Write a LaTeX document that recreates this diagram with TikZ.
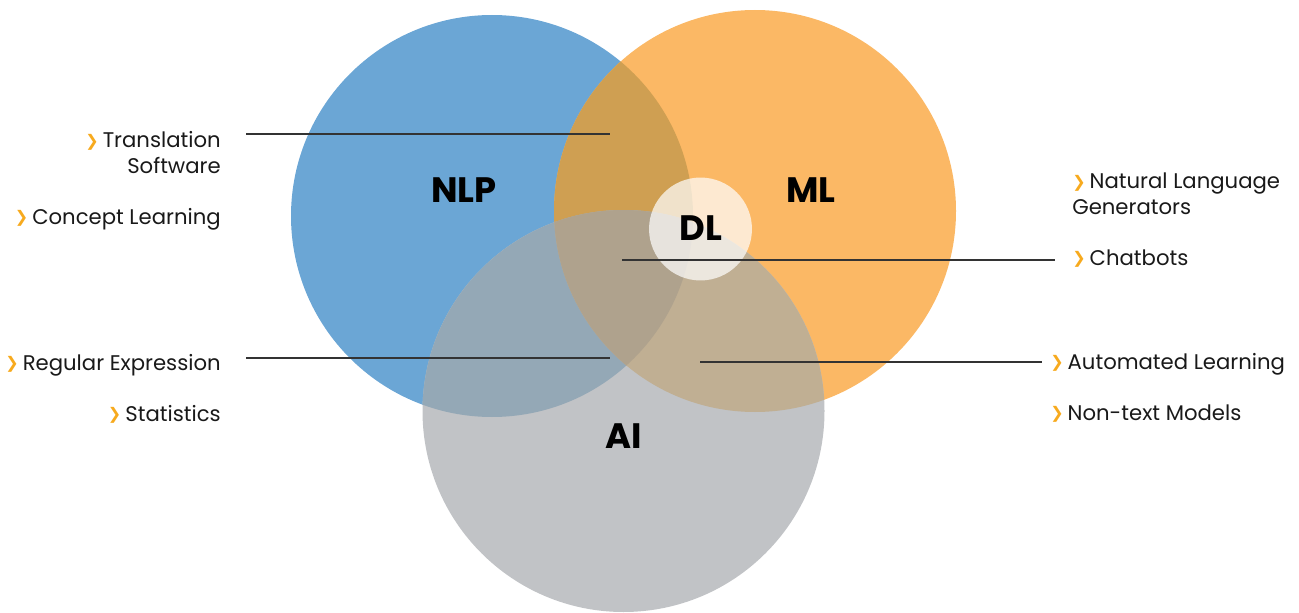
\documentclass[tikz,border=0pt]{standalone}
\usepackage{fontspec}
\setmainfont{Poppins}
\newfontfamily\djv{DejaVu Sans}
\begin{document}
\begin{tikzpicture}[x=0.75pt,y=-0.75pt,
  lbl/.style={inner sep=0pt,font=\fontsize{15.9pt}{19.5pt}\selectfont,text=black!90},
  big/.style={inner sep=0pt,font=\fontsize{26.5pt}{30pt}\selectfont\bfseries,text=black},
  lead/.style={draw=black!80,line width=0.95pt}]
\definecolor{cblue}{HTML}{6BA6D5}
\definecolor{corange}{HTML}{FBB865}
\definecolor{cgray}{HTML}{C1C3C6}
\definecolor{cbo}{HTML}{CF9F52}
\definecolor{cbg}{HTML}{94A8B6}
\definecolor{cog}{HTML}{C0AF93}
\definecolor{cbog}{HTML}{AFA28D}
\definecolor{chev}{HTML}{F7AA1E}
\newcommand{\chv}{{\color{chev}\fontsize{12pt}{12pt}\djv\bfseries\raisebox{1.2pt}{❯}}\hspace{3pt}}
\useasboundingbox (0,0) rectangle (1299,613);
\def\B{(492,216) circle[radius=150.75pt]}
\def\O{(755,211) circle[radius=150.75pt]}
\def\G{(623.5,411) circle[radius=150.75pt]}
\fill[cblue] \B;
\fill[corange] \O;
\fill[cgray] \G;
\begin{scope}\clip \B; \fill[cbo] \O; \fill[cbg] \G;\end{scope}
\begin{scope}\clip \O; \fill[cog] \G;\end{scope}
\begin{scope}\clip \B; \clip \O; \fill[cbog] \G;\end{scope}
\fill[white,opacity=0.7] (700.5,229) circle[radius=38.6pt];
% big labels
\node[big] (nlp) at (464,190) {NLP};
\node[big] (ml) at (811,190) {ML};
\node[big] (dl) at (701,228) {DL};
\node[big] (ai) at (624,436) {AI};
% left labels
\node[lbl,anchor=east,align=right] (ts) at (221,153) {\chv Translation\\Software};
\node[lbl,anchor=base east] (cl) at (221,224) {\chv Concept Learning};
\node[lbl,anchor=base east] (re) at (221,370) {\chv Regular Expression};
\node[lbl,anchor=base east] (st) at (221,421) {\chv Statistics};
% right labels
\node[lbl,anchor=west,align=left] (nl) at (1072,194) {\chv Natural Language\\Generators};
\node[lbl,anchor=base west] (cb) at (1072,265) {\chv Chatbots};
\node[lbl,anchor=base west] (al) at (1050,369) {\chv Automated Learning};
\node[lbl,anchor=base west] (nt) at (1050,420) {\chv Non-text Models};
% leader lines
\coordinate (tsA) at (246,134); \coordinate (tsB) at (610,134);
\coordinate (cbA) at (622,260); \coordinate (cbB) at (1055,260);
\coordinate (reA) at (246,358); \coordinate (reB) at (610,358);
\coordinate (alA) at (700,362); \coordinate (alB) at (1042,362);
\draw[lead] (tsA) -- (tsB);
\draw[lead] (cbA) -- (cbB);
\draw[lead] (reA) -- (reB);
\draw[lead] (alA) -- (alB);
\end{tikzpicture}
\end{document}
